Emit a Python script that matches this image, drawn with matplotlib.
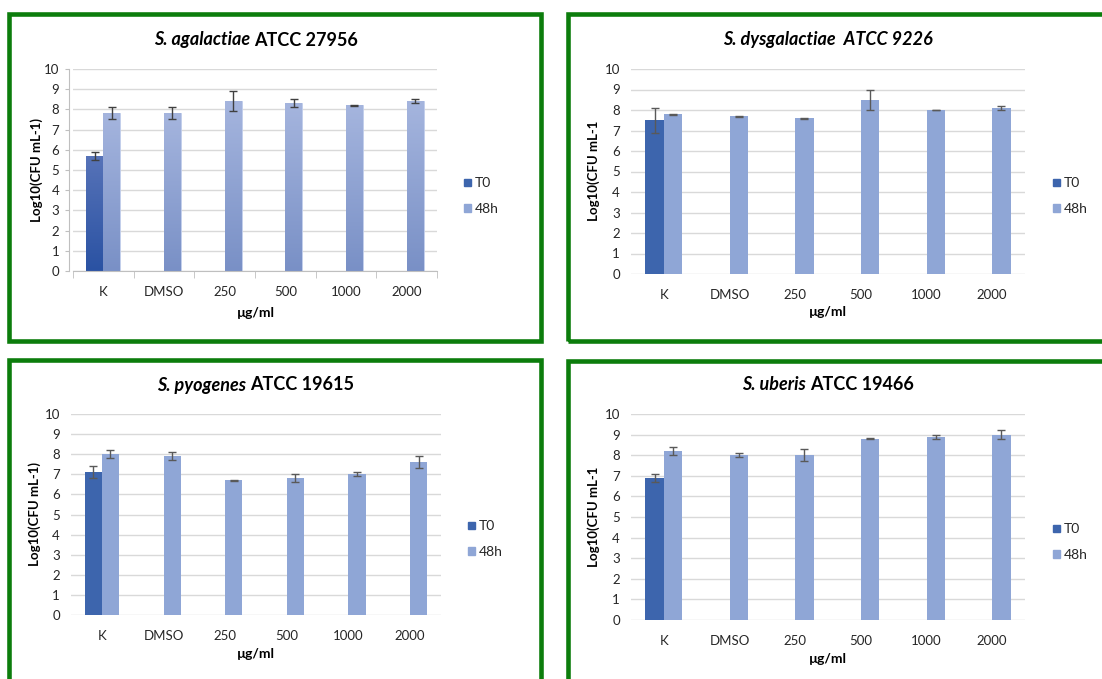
import matplotlib
matplotlib.use("Agg")
import matplotlib.pyplot as plt
import numpy as np
from matplotlib.patches import Rectangle, Patch
from matplotlib.colors import LinearSegmentedColormap

plt.rcParams["font.family"] = ["Lato", "DejaVu Sans"]

W, H = 1102, 679

CATEGORIES = ["K", "DMSO", "250", "500", "1000", "2000"]

# T0 is only measured for the untreated control (K)
AGA_T0, AGA_T0_ERR = 5.7, 0.2
AGA_48H = [7.8, 7.8, 8.4, 8.3, 8.2, 8.4]
AGA_48H_ERR = [0.3, 0.3, 0.5, 0.2, 0.02, 0.1]

DYS_T0, DYS_T0_ERR = 7.5, 0.6
DYS_48H = [7.8, 7.7, 7.6, 8.5, 8.0, 8.1]
DYS_48H_ERR = [0.02, 0.02, 0.02, 0.5, 0.02, 0.1]

PYO_T0, PYO_T0_ERR = 7.1, 0.3
PYO_48H = [8.0, 7.9, 6.7, 6.8, 7.0, 7.6]
PYO_48H_ERR = [0.2, 0.2, 0.02, 0.2, 0.1, 0.3]

UBE_T0, UBE_T0_ERR = 6.9, 0.2
UBE_48H = [8.2, 8.0, 8.0, 8.8, 8.9, 9.0]
UBE_48H_ERR = [0.2, 0.1, 0.3, 0.02, 0.1, 0.2]

C_T0 = "#3d65ad"
C_48H = "#8fa6d6"
GREEN = "#0c7d0c"
GRID = "#d9d9d9"
TXT = "#262626"
BAR_W = 0.28


def fx(x):
    return x / W


def fy(y):
    return 1 - y / H


def add_axes_px(x0, x1, ytop, ybot):
    return fig.add_axes([fx(x0), fy(ybot), (x1 - x0) / W, (ybot - ytop) / H])


def frame(x0, y0, x1, y1):
    fig.add_artist(Rectangle((fx(x0), fy(y1)), (x1 - x0) / W, (y1 - y0) / H,
                             transform=fig.transFigure, fill=False,
                             edgecolor=GREEN, linewidth=3.3, zorder=10))


def title(cx, cy, parts):
    # parts: list of (text, italic) drawn side by side, centred on cx
    r = fig.canvas.get_renderer()
    texts = []
    for s, it in parts:
        t = fig.text(0, fy(cy), s, fontsize=13, fontweight="bold",
                     style="italic" if it else "normal", va="center",
                     ha="left", color="black")
        texts.append(t)
    widths = [t.get_window_extent(r).width for t in texts]
    x = cx - sum(widths) / 2
    for t, w in zip(texts, widths):
        t.set_x(fx(x))
        x += w


def gradient_bar(ax, bar, c_top, c_bot):
    cmap = LinearSegmentedColormap.from_list("g", [c_bot, c_top])
    x0, y0 = bar.get_x(), bar.get_y()
    grad = np.linspace(0, 1, 256).reshape(-1, 1)
    im = ax.imshow(grad, extent=[x0, x0 + bar.get_width(), y0, y0 + bar.get_height()],
                   origin="lower", aspect="auto", cmap=cmap, zorder=2)
    im.set_clip_path(bar)


def panel(ax, t0, t0_err, v48, e48, ecolor, gradient=False):
    x = np.arange(len(CATEGORIES))
    b0 = ax.bar(x[0] - BAR_W / 2, t0, BAR_W, color=C_T0, zorder=2)
    b1 = ax.bar(x + BAR_W / 2, v48, BAR_W, color=C_48H, zorder=2)
    if gradient:
        for b in b0:
            gradient_bar(ax, b, "#5773b8", "#2a52a3")
            b.set_edgecolor("#b8c6e6")
            b.set_linewidth(0.6)
        for b in b1:
            gradient_bar(ax, b, "#a5b5de", "#7990c6")
            b.set_edgecolor("#c3cfec")
            b.set_linewidth(0.6)
    ax.errorbar(x[0] - BAR_W / 2, t0, yerr=t0_err, fmt="none", ecolor=ecolor,
                elinewidth=1.0, capsize=3, capthick=1.0, zorder=4)
    ax.errorbar(x + BAR_W / 2, v48, yerr=e48, fmt="none", ecolor=ecolor,
                elinewidth=1.0, capsize=3, capthick=1.0, zorder=4)
    ax.set_xlim(-0.5, len(CATEGORIES) - 0.5)
    ax.set_ylim(0, 10)
    ax.set_yticks(range(0, 11))
    ax.set_xticks(x)
    ax.set_xticklabels(CATEGORIES)
    ax.yaxis.grid(True, color=GRID, linewidth=1.0, zorder=0)
    ax.set_axisbelow(True)
    for s in ax.spines.values():
        s.set_visible(False)
    ax.tick_params(axis="x", length=0, pad=10.5, labelsize=9.5, labelcolor=TXT)
    ax.tick_params(axis="y", length=0, pad=8, labelsize=9.5, labelcolor=TXT)
    if gradient:
        ax.spines["left"].set_visible(True)
        ax.spines["bottom"].set_visible(True)
        ax.spines["left"].set_color("#bfbfbf")
        ax.spines["bottom"].set_color("#bfbfbf")
        ax.spines["left"].set_position(("outward", 3))
        ax.tick_params(axis="y", length=3, color="#bfbfbf", pad=4)
        ax.set_xticks(np.arange(-0.5, len(CATEGORIES)), minor=True)
        ax.tick_params(axis="x", which="minor", length=5, color="#bfbfbf")
    handles = [Patch(color=C_T0, label="T0"), Patch(color=C_48H, label="48h")]
    return handles


def legend(ax, handles, x, y):
    ax.legend(handles=handles, loc="center left", bbox_to_anchor=(fx(x), fy(y)),
              bbox_transform=fig.transFigure, frameon=False, fontsize=10,
              handlelength=0.5, handleheight=0.5, handletextpad=0.3,
              labelspacing=0.95, borderpad=0, labelcolor=TXT)


def labels(cx, cy, lx, ly, ylab, xlab_y):
    fig.text(fx(lx), fy(ly), ylab, rotation=90, fontsize=9.5, fontweight="bold",
             ha="center", va="center", color="black")
    fig.text(fx(cx), fy(xlab_y), "µg/ml", fontsize=10, fontweight="bold",
             ha="center", va="center", color="black")


fig = plt.figure(figsize=(W / 100, H / 100), dpi=100)
fig.patch.set_facecolor("white")

# top-left: S. agalactiae
frame(9.3, 14, 540.8, 340.7)
ax1 = add_axes_px(73, 437, 69, 271)
h = panel(ax1, AGA_T0, AGA_T0_ERR, AGA_48H, AGA_48H_ERR, "#404040", gradient=True)
legend(ax1, h, 457, 196)
title(256, 40, [("S. agalactiae ", True), ("ATCC 27956", False)])
labels(256, 170, 37, 170, "Log10(CFU mL-1)", 313)

# top-right: S. dysgalactiae
frame(568, 14, 1115, 340.7)
ax2 = add_axes_px(631, 1025, 69, 274)
h = panel(ax2, DYS_T0, DYS_T0_ERR, DYS_48H, DYS_48H_ERR, "#595959")
legend(ax2, h, 1046, 196)
title(828, 40, [("S. dysgalactiae  ATCC 9226", True)])
labels(828, 171, 594, 171, "Log10(CFU mL-1", 312)

# bottom-left: S. pyogenes
frame(9.3, 360, 540.8, 690)
ax3 = add_axes_px(71, 441, 414, 615)
h = panel(ax3, PYO_T0, PYO_T0_ERR, PYO_48H, PYO_48H_ERR, "#595959")
legend(ax3, h, 461, 539)
title(256, 385, [("S. pyogenes ", True), ("ATCC 19615", False)])
labels(256, 514, 35, 514, "Log10(CFU mL-1)", 654)

# bottom-right: S. uberis
frame(568, 361, 1115, 690)
ax4 = add_axes_px(631, 1025, 414, 620)
h = panel(ax4, UBE_T0, UBE_T0_ERR, UBE_48H, UBE_48H_ERR, "#595959")
legend(ax4, h, 1046, 542)
title(828, 385, [("S. uberis ", True), ("ATCC 19466", False)])
labels(828, 517, 594, 517, "Log10(CFU mL-1", 659)

fig.savefig("out.png", dpi=100)
